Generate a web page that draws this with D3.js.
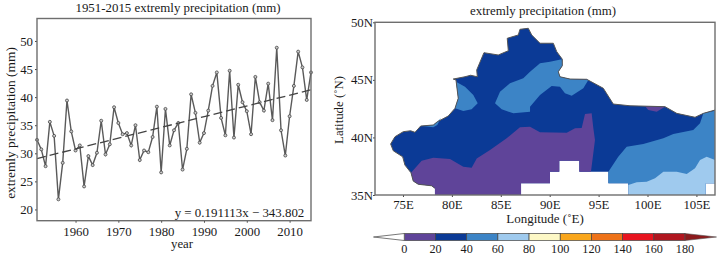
<!DOCTYPE html>
<html>
<head>
<meta charset="utf-8">
<script src="https://cdn.jsdelivr.net/npm/d3@7"></script>
<style>
  html, body { margin: 0; padding: 0; background: #fff; }
  svg { display: block; }
  text { font-family: "Liberation Serif", serif; fill: #1a1a1a; }
</style>
</head>
<body>
<div id="chart"></div>
<script>
// left chart data
var years = d3.range(1951, 2016);
var precip = [32.4, 30.7, 27.7, 35.6, 33.1, 21.8, 28.3, 39.4, 33.9, 30.5,
    31.4, 24.1, 29.5, 27.9, 30.1, 35.8, 29.8, 31.6, 38.2, 35.4,
    33.4, 33.6, 31.4, 35, 28.8, 30.5, 30.2, 32.9, 38.3, 26.6,
    37.9, 31.4, 34.1, 35.4, 27.1, 30.8, 40.5, 37.2, 31.9, 33.6,
    37.6, 42, 44.4, 36.3, 33.2, 44.7, 32.8, 42.2, 39.1, 37.5,
    33.4, 43.6, 39.1, 37.6, 42.4, 35.9, 48.8, 34.1, 29.6, 36.6,
    42, 48.1, 45.3, 39.5, 44.4];
var trendYears = [1951, 2015];
var trendValues = [29.06, 41.3];
var yTicks = [20, 25, 30, 35, 40, 45, 50];
var xTicks = [1960, 1970, 1980, 1990, 2000, 2010];

// map data, [lon, lat]
var northEdge = [[78.27,35.58],[77.93,35.8],[76.56,35.93],[76.05,36.21],[75.82,36.93],[75.2,37.6],[74.97,38.32],[74.01,38.84],[73.74,39.43],[74.18,40.06],[75.03,40.5],[75.79,40.58],[76.23,40.44],[76.81,40.99],[78.1,41.08],[78.51,41.36],[79.63,41.86],[80.32,42.53],[80.65,43.4],[80.42,44.99],[80.14,45.07],[81.34,45.27],[81.92,45.4],[82.6,45.27],[82.54,45.86],[83.28,47.36],[84.74,47.16],[85.77,47.53],[85.66,48.61],[86.79,48.9],[86.96,49.39],[87.81,49.48],[88.16,48.9],[89.01,48.18],[90.37,48.18],[90.72,47.45],[91.29,46.79],[91.29,46.23],[90.88,45.71],[91.05,45.27],[92.08,45.07],[93.78,45.05],[95.48,44.27],[96.5,42.9],[98.21,42.75],[101.79,42.67],[102.99,42.09],[104.86,41.75],[105.71,42.09],[106.9,42.38]];
var southEdge = [[106.9,36.01],[105.95,36.01],[105.95,35],[98.04,35],[98.04,36.01],[96,36.01],[96,37.02],[93.03,37.02],[93.03,37.98],[90.98,37.98],[90.98,37.02],[90.03,37.02],[90.03,36.01],[87.07,36.01],[87.07,35],[78.27,35]];
var purpleSouth = [[75.82,36.93],[76.91,37.98],[78.1,38.24],[79.81,38.12],[81.17,37.45],[82.02,37.37],[82.54,38.18],[83.9,38.91],[85.6,39.92],[86.96,40.88],[87.99,40.93],[89.01,40.44],[91.74,40.41],[92.59,40.79],[93.27,40.82],[93.61,42.03],[94.29,42.09],[94.46,40.82],[94.63,39.77],[94.46,38.62],[94.22,37.02],[93.03,37.02],[93.03,37.98],[90.98,37.98],[90.98,37.02],[90.03,37.02],[90.03,36.01],[87.07,36.01],[87.07,35],[78.27,35],[78.27,35.58],[77.93,35.8],[76.56,35.93],[76.05,36.21]];
var purpleNorth = [[99.74,42.73],[101.79,42.67],[100.94,42.23],[100.08,42.38]];
var blueWest = [[80.42,44.84],[81.34,44.4],[82.19,43.68],[82.64,42.96],[82.02,42.44],[81.17,42.29],[80.32,42.53],[80.65,43.4]];
var blueCentral = [[84.41,42.96],[84.92,43.97],[85.94,44.7],[87.3,45.13],[87.99,45.71],[89.01,46.44],[90.03,46.58],[91.23,46.79],[91.29,46.23],[90.88,45.71],[91.05,45.27],[92.08,45.07],[93.95,44.99],[93.44,44.27],[92.25,43.62],[91.56,43.83],[91.05,44.4],[90.2,44.47],[89.01,43.68],[87.99,42.67],[87.99,42.23],[86.28,42.09],[85.09,42.44]];
var blueSliver = [[77,40.99],[78.1,41.08],[78.51,41.36],[78.89,41.69],[78.78,41.52],[78.51,41.08],[78.1,40.88]];
var blueEast = [[106.9,42.32],[105.71,42.09],[105.37,41.23],[104.68,40.64],[102.64,40.3],[101.62,39.92],[99.57,39.43],[97.87,39.19],[97.01,38.32],[96,37.02],[96,36.01],[98.04,36.01],[98.04,35.5],[105.95,35.5],[105.95,36.01],[106.9,36.01]];
var lightEast = [[98.04,35],[98.04,35.86],[98.9,36.1],[99.92,36.15],[100.77,36.45],[101.62,37.02],[102.99,37.02],[104.01,36.82],[104.86,37.32],[105.37,38.04],[106.05,38.32],[106.9,38.04],[106.9,36.01],[105.95,36.01],[105.95,35]];
var lonTicks = [75, 80, 85, 90, 95, 100, 105];
var latTicks = [35, 40, 45, 50];

// colour bar
var levels = [0, 20, 40, 60, 80, 100, 120, 140, 160, 180];
var levelColors = ["#5f4499", "#0b3a96", "#3c84c6", "#9fcaee", "#fdf8c6", "#f9a61c", "#ee7218", "#e8141f", "#b0161f"];
var overColor = "#8c1a1c";

var gray = "#6e6e6e";

var svg = d3.select("#chart").append("svg")
    .attr("width", 722)
    .attr("height", 256);

/* ---- left chart ---- */
var xScale = d3.scaleLinear().domain([1951, 2015]).range([37, 311]);
var yScale = d3.scaleLinear().domain([18, 54]).range([220.7, 18.5]);

var lineGen = d3.line()
    .x(function(d, i) { return xScale(years[i]); })
    .y(function(d) { return yScale(d); });

svg.append("path")
    .attr("d", lineGen(precip))
    .attr("fill", "none")
    .attr("stroke", "#5a5a5a")
    .attr("stroke-width", 1.4);

svg.selectAll("circle.pt")
    .data(precip)
    .enter()
    .append("circle")
    .attr("class", "pt")
    .attr("cx", function(d, i) { return xScale(years[i]); })
    .attr("cy", function(d) { return yScale(d); })
    .attr("r", 1.5)
    .attr("fill", "#ccc")
    .attr("stroke", "#444")
    .attr("stroke-width", 0.8);

svg.append("path")
    .attr("d", d3.line()
        .x(function(d, i) { return xScale(trendYears[i]); })
        .y(function(d) { return yScale(d); })(trendValues))
    .attr("fill", "none")
    .attr("stroke", "#444")
    .attr("stroke-width", 1.3)
    .attr("stroke-dasharray", "9,4");

svg.append("g")
    .attr("transform", "translate(37,0)")
    .call(d3.axisLeft(yScale).tickValues(yTicks).tickSize(2).tickPadding(2).tickSizeOuter(0));

svg.append("g")
    .attr("transform", "translate(0,220.7)")
    .call(d3.axisBottom(xScale).tickValues(xTicks).tickFormat(d3.format("d")).tickSize(2).tickPadding(4).tickSizeOuter(0));

svg.append("rect")
    .attr("x", xScale.range()[0])
    .attr("y", yScale.range()[1])
    .attr("width", xScale.range()[1] - xScale.range()[0])
    .attr("height", yScale.range()[0] - yScale.range()[1])
    .attr("fill", "none")
    .attr("stroke", gray)
    .attr("stroke-width", 1.4);

/* ---- map ---- */
var lonScale = d3.scaleLinear().domain([72.14, 106.9]).range([375, 715]);
var latScale = d3.scaleLinear().domain([35, 50]).range([195, 22.3]);

var mapLine = d3.line()
    .x(function(d) { return lonScale(d[0]); })
    .y(function(d) { return latScale(d[1]); });

function fillArea(points, color) {
    svg.append("path")
        .attr("d", mapLine(points) + "Z")
        .attr("fill", color);
}

fillArea(northEdge.concat(southEdge), levelColors[1]);
fillArea(purpleSouth, levelColors[0]);
fillArea(purpleNorth, levelColors[0]);
fillArea(blueWest, levelColors[2]);
fillArea(blueCentral, levelColors[2]);
fillArea(blueSliver, levelColors[2]);
fillArea(blueEast, levelColors[2]);
fillArea(lightEast, levelColors[3]);

svg.append("path")
    .attr("d", mapLine(northEdge))
    .attr("fill", "none")
    .attr("stroke", "#555")
    .attr("stroke-width", 1);

svg.append("g")
    .attr("transform", "translate(375,0)")
    .call(d3.axisLeft(latScale).tickValues(latTicks)
        .tickFormat(function(d) { return d + "N"; }).tickSize(2).tickPadding(0).tickSizeOuter(0));

svg.append("g")
    .attr("transform", "translate(0,195)")
    .call(d3.axisBottom(lonScale).tickValues(lonTicks)
        .tickFormat(function(d) { return d + "E"; }).tickSize(2).tickPadding(3).tickSizeOuter(0));

svg.append("rect")
    .attr("x", lonScale.range()[0])
    .attr("y", latScale.range()[1])
    .attr("width", lonScale.range()[1] - lonScale.range()[0])
    .attr("height", latScale.range()[0] - latScale.range()[1])
    .attr("fill", "none")
    .attr("stroke", gray)
    .attr("stroke-width", 1.4);

/* ---- colour bar ---- */
var barScale = d3.scaleLinear().domain([0, 180]).range([404.3, 685]);
var barTop = 233.5, barBottom = 240.5, barMid = (barTop + barBottom) / 2;

svg.selectAll("rect.level")
    .data(levelColors)
    .enter()
    .append("rect")
    .attr("class", "level")
    .attr("x", function(d, i) { return barScale(levels[i]); })
    .attr("y", barTop)
    .attr("width", function(d, i) { return barScale(levels[i + 1]) - barScale(levels[i]); })
    .attr("height", barBottom - barTop)
    .attr("fill", function(d) { return d; })
    .attr("stroke", "#444")
    .attr("stroke-width", 0.7);

svg.append("path")
    .attr("d", "M" + barScale(0) + "," + barTop + "L373.5," + barMid + "L" + barScale(0) + "," + barBottom + "Z")
    .attr("fill", "#fff")
    .attr("stroke", "#555")
    .attr("stroke-width", 0.8);

svg.append("path")
    .attr("d", "M" + barScale(180) + "," + barTop + "L716.5," + barMid + "L" + barScale(180) + "," + barBottom + "Z")
    .attr("fill", overColor)
    .attr("stroke", "#555")
    .attr("stroke-width", 0.6);

svg.selectAll("text.level")
    .data(levels)
    .enter()
    .append("text")
    .attr("class", "level")
    .attr("x", function(d) { return barScale(d); })
    .attr("y", 253)
    .attr("text-anchor", "middle")
    .attr("font-size", 12.2)
    .text(function(d) { return d; });

/* ---- text ---- */
svg.selectAll(".tick text")
    .attr("font-size", 12.8)
    .style("font-family", '"Liberation Serif", serif')
    .style("fill", "#1a1a1a");
svg.selectAll(".tick line").attr("stroke", "#444");
svg.selectAll(".domain").attr("stroke", "none");

function label(txt, x, y, size, rot) {
    var t = svg.append("text")
        .attr("text-anchor", "middle")
        .attr("font-size", size)
        .attr("transform", "translate(" + x + "," + y + ")" + (rot ? " rotate(" + rot + ")" : ""))
        .text(txt);
    return t;
}

label("1951-2015 extremly precipitation (mm)", 178, 12, 12.9);
label("extremly precipitation (mm)", 15, 123, 13.4, -90);
label("year", 182, 248, 12.8);
label("y = 0.191113x \u2212 343.802", 239.5, 217, 12.9);
label("extremly precipitation (mm)", 543, 15, 12.9);
label("Latitude (\u02daN)", 343, 110, 12.8, -90);
label("Longitude (\u02daE)", 545, 223, 13);
</script>
</body>
</html>
